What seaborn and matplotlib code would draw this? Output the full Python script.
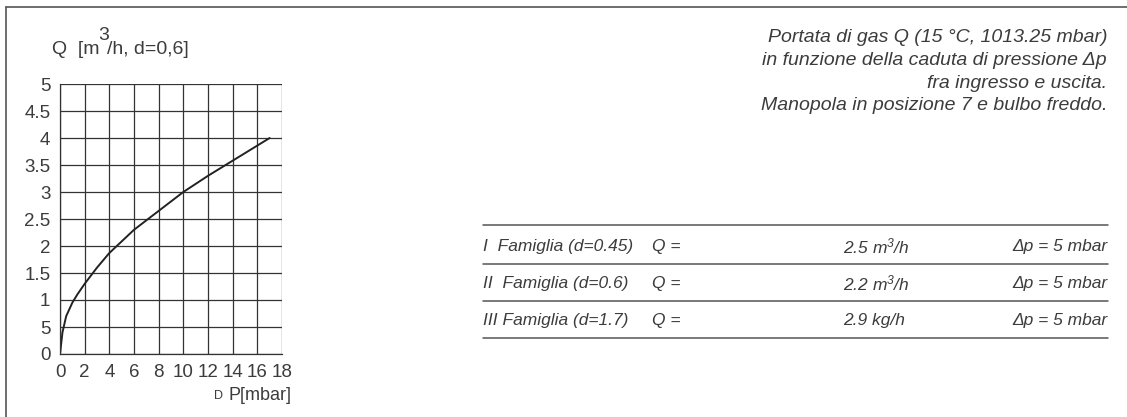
import matplotlib
matplotlib.use("Agg")
import matplotlib.pyplot as plt
import numpy as np
import pandas as pd
import seaborn as sns

# curve: pressure drop [mbar] -> flow Q [m3/h]
pressureDrop = [0, 0.2, 0.5, 1.0, 1.4, 2, 3, 4, 6, 8, 10, 12, 14, 17]
flowRate = [0, 0.4, 0.7, 0.95, 1.1, 1.3, 1.6, 1.87, 2.3, 2.65, 3.0, 3.3, 3.58, 4.0]

xTicks = [0, 2, 4, 6, 8, 10, 12, 14, 16, 18]
yTicks = [0, 0.5, 1, 1.5, 2, 2.5, 3, 3.5, 4, 4.5, 5]
yTickLabels = ["0", "5", "1", "1.5", "2", "2.5", "3", "3.5", "4", "4.5", "5"]

noteLines = [
    "Portata di gas Q (15 °C, 1013.25 mbar)",
    "in funzione della caduta di pressione Δp",
    "fra ingresso e uscita.",
    "Manopola in posizione 7 e bulbo freddo.",
]

families = ["I  Famiglia (d=0.45)", "II  Famiglia (d=0.6)", "III Famiglia (d=1.7)"]
flowValues = ["2.5 m$^3$/h", "2.2 m$^3$/h", "2.9 kg/h"]
dropValues = ["Δp = 5 mbar", "Δp = 5 mbar", "Δp = 5 mbar"]


def main():
    sns.set_style("white")
    plt.rcParams["font.family"] = ["Liberation Sans", "DejaVu Sans"]
    plt.rcParams["mathtext.fontset"] = "custom"
    plt.rcParams["mathtext.it"] = "Liberation Sans:italic"
    plt.rcParams["mathtext.rm"] = "Liberation Sans:italic"

    W, H = 1127, 417
    textColor = "#3c3c3c"
    fig = plt.figure(figsize=(W / 100, H / 100), dpi=100)
    ax = fig.add_axes([60 / W, 1 - 354 / H, 222 / W, 270 / H])

    df = pd.DataFrame({"dp": pressureDrop, "q": flowRate})
    sns.lineplot(data=df, x="dp", y="q", ax=ax, color="#222222", linewidth=1.4)

    ax.set_xlim(0, 18)
    ax.set_ylim(0, 5)
    ax.set_xticks(xTicks)
    ax.set_yticks(yTicks)
    ax.set_yticklabels(yTickLabels)
    ax.grid(True, color="#333333", linewidth=0.9)
    for side in ["top", "right"]:
        ax.spines[side].set_visible(False)
    for side in ["left", "bottom"]:
        ax.spines[side].set_color("#333333")
        ax.spines[side].set_linewidth(0.9)
    ax.tick_params(direction="out", length=5, width=0.9, color="#333333",
                   labelsize=13.5, labelcolor=textColor, pad=2)
    ax.set_xlabel("")
    ax.set_ylabel("")

    # frame
    fig.add_artist(plt.Line2D([6 / W, 6 / W], [0, 1 - 7 / H], color="#555555", lw=1.2))
    fig.add_artist(plt.Line2D([6 / W, 1], [1 - 7 / H, 1 - 7 / H], color="#555555", lw=1.2))

    # axis titles
    fig.text(52 / W, 1 - 49 / H, "Q  [m", fontsize=14, color=textColor, va="center")
    fig.text(98 / W, 1 - 36 / H, "3", fontsize=14, color=textColor, va="center")
    fig.text(107 / W, 1 - 49 / H, "/h, d=0,6]", fontsize=14, color=textColor, va="center")
    fig.text(291 / W, 1 - 395 / H, "P[mbar]", fontsize=13, color=textColor,
             va="center", ha="right")
    fig.text(223 / W, 1 - 396 / H, "D", fontsize=9, color=textColor, va="center", ha="right")

    # note block
    for i, line in enumerate(noteLines):
        fig.text(1107 / W, 1 - (38 + 22.5 * i) / H, line, fontsize=14, style="italic",
                 color=textColor, ha="right", va="center")

    # table
    lineY = [225, 264, 301, 338]
    for y in lineY:
        fig.add_artist(plt.Line2D([483 / W, 1108 / W], [1 - y / H, 1 - y / H],
                                  color="#555555", lw=1.1))
    for i in range(3):
        y = 1 - (246 + 37.5 * i) / H
        kw = dict(fontsize=12.5, style="italic", color=textColor, va="center")
        fig.text(483 / W, y, families[i], **kw)
        fig.text(652 / W, y, "Q =", **kw)
        fig.text(843 / W, y, flowValues[i], **kw)
        fig.text(1107 / W, y, dropValues[i], ha="right", **kw)

    fig.savefig("out.png", dpi=100)


if __name__ == "__main__":
    main()
